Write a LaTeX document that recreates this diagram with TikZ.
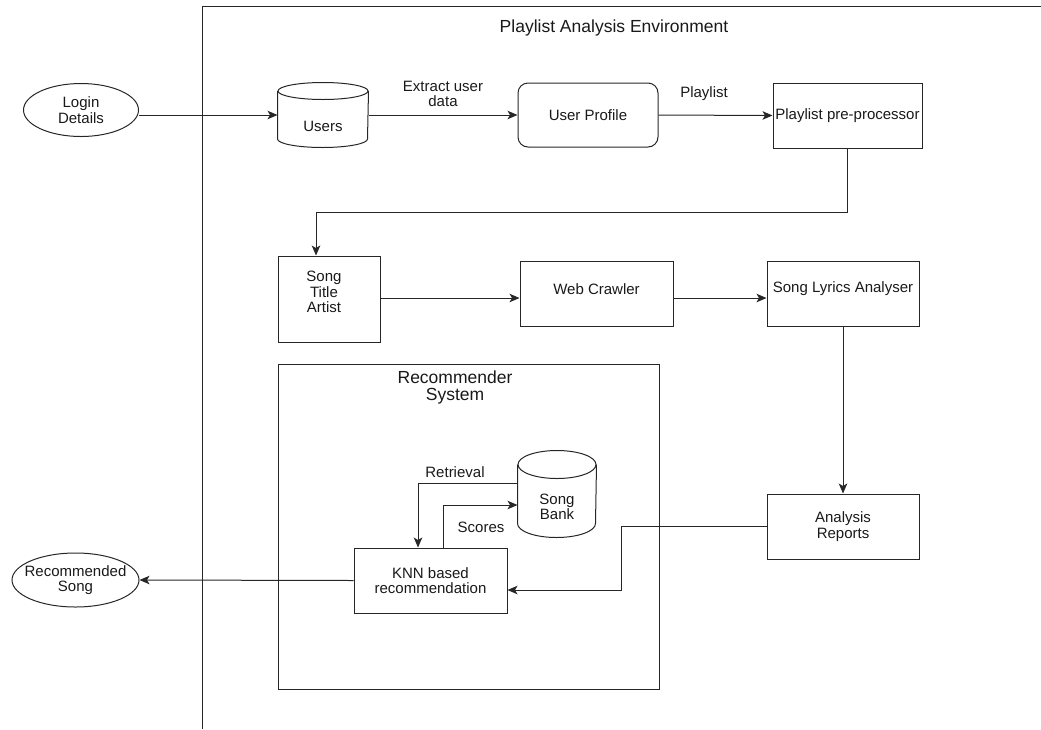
\documentclass[tikz,border=0pt]{standalone}
\usepackage{fontspec}
\setmainfont{Liberation Sans}
\usetikzlibrary{shapes.geometric,arrows.meta,calc}
\colorlet{lc}{black!85}
\colorlet{tc}{black!90}
\newcommand{\mycyl}[3]{%
  \draw[conn] ($(#1.north west)+(0,#3)$) -- ($(#1.south west)+(0,-#3)$)
     arc[start angle=180, end angle=0, x radius=#2, y radius=#3]
     -- ($(#1.north east)+(0,#3)$);
  \draw[conn] ($(#1.north)+(0,#3)$) ellipse[x radius=#2, y radius=#3];
}
\begin{document}
\begin{tikzpicture}[x=1pt,y=-1pt,line width=1pt,
  base/.style={font=\fontsize{15}{15.5}\selectfont, text=tc, align=center},
  box/.style={base, draw=lc, rectangle, inner sep=0pt},
  rbox/.style={box, rounded corners=10pt},
  oval/.style={base, draw=lc, ellipse, inner sep=0pt},
  cylbox/.style={base, rectangle, inner sep=0pt},
  conn/.style={draw=lc, line width=1pt},
  arr/.style={conn, -{Stealth[length=10pt,width=8.5pt,inset=2.5pt]}},
  lbl/.style={base},
  ttl/.style={font=\fontsize{17.5}{17}\selectfont, text=tc, align=center}]
\useasboundingbox (0,0) rectangle (1041,729);

% environment frame
\draw[conn] (202,729) -- (202,6) -- (1041,6);
\node[ttl] (envtitle) at (614,28) {Playlist Analysis Environment};

% recommender system frame
\node[box, minimum width=381pt, minimum height=325pt] (recsys) at (468.5,526.5) {};
\node[ttl] (rstitle) at (455,387) {Recommender\\System};

% nodes
\node[oval, minimum width=115pt, minimum height=53pt,
      label={[base]center:Login\\Details}] (login) at (81,110) {};
\node[cylbox, minimum width=90pt, minimum height=64pt,
      label={[base,yshift=-11pt]center:Users}] (users) at (323,115) {};
\node[rbox, minimum width=140pt, minimum height=64pt] (profile) at (588,115) {User Profile};
\node[box, minimum width=149pt, minimum height=65pt] (prep) at (847.5,115.5) {Playlist pre-processor};
\node[box, minimum width=102pt, minimum height=86pt,
      label={[base,yshift=7pt,xshift=-5pt]center:Song\\Title\\Artist}] (song) at (329,299) {};
\node[box, minimum width=153pt, minimum height=65pt,
      label={[base,yshift=4.5pt]center:Web Crawler}] (crawler) at (596.5,293.5) {};
\node[box, minimum width=152pt, minimum height=65pt,
      label={[base,yshift=4.5pt]center:Song Lyrics Analyser}] (lyrics) at (843,293.5) {};
\node[box, minimum width=152pt, minimum height=65pt] (reports) at (843,526.5) {Analysis\\Reports};
\node[cylbox, minimum width=78pt, minimum height=86pt,
      label={[base,yshift=-13pt]center:Song\\Bank}] (sb) at (557,494) {};
\node[box, minimum width=153pt, minimum height=65pt] (knn) at (430.5,580.5) {KNN based\\recommendation};
\node[oval, minimum width=127pt, minimum height=54pt,
      label={[base]center:Recommended\\Song}] (rec) at (75.5,580) {};

\mycyl{users}{45}{8.5}
\mycyl{sb}{39}{14}

% connectors
\draw[arr] (login.east |- users.west) -- (users.west);
\draw[arr] (users.east) -- (profile.west);
\node[lbl] (lextract) at (443,94) {Extract user\\data};
\draw[arr] (profile.east) -- (prep.west);
\node[lbl] (lplaylist) at (704,94) {Playlist};

\coordinate (bend) at (316,212);
\draw[arr] (prep.south) |- (bend) -- (bend |- song.north);

\coordinate (row) at (0,298);
\draw[arr] (song.east |- row) -- (crawler.west |- row);
\draw[arr] (crawler.east |- row) -- (lyrics.west |- row);
\draw[arr] (lyrics.south) -- (reports.north);

\coordinate (r1) at (621,590);
\draw[arr] (reports.west) -| (r1) -- (r1 -| knn.east);

\coordinate (ret) at (418,483);
\draw[arr] (sb.west |- ret) -- (ret) -- (ret |- knn.north);
\node[lbl] (lret) at (455,472) {Retrieval};

\coordinate (sc) at (443,505);
\draw[arr] (sc |- knn.north) -- (sc) -- (sc -| sb.west);
\node[lbl] (lscores) at (481,527) {Scores};

\draw[arr] (knn.west) -- (rec.east);
\end{tikzpicture}
\end{document}
